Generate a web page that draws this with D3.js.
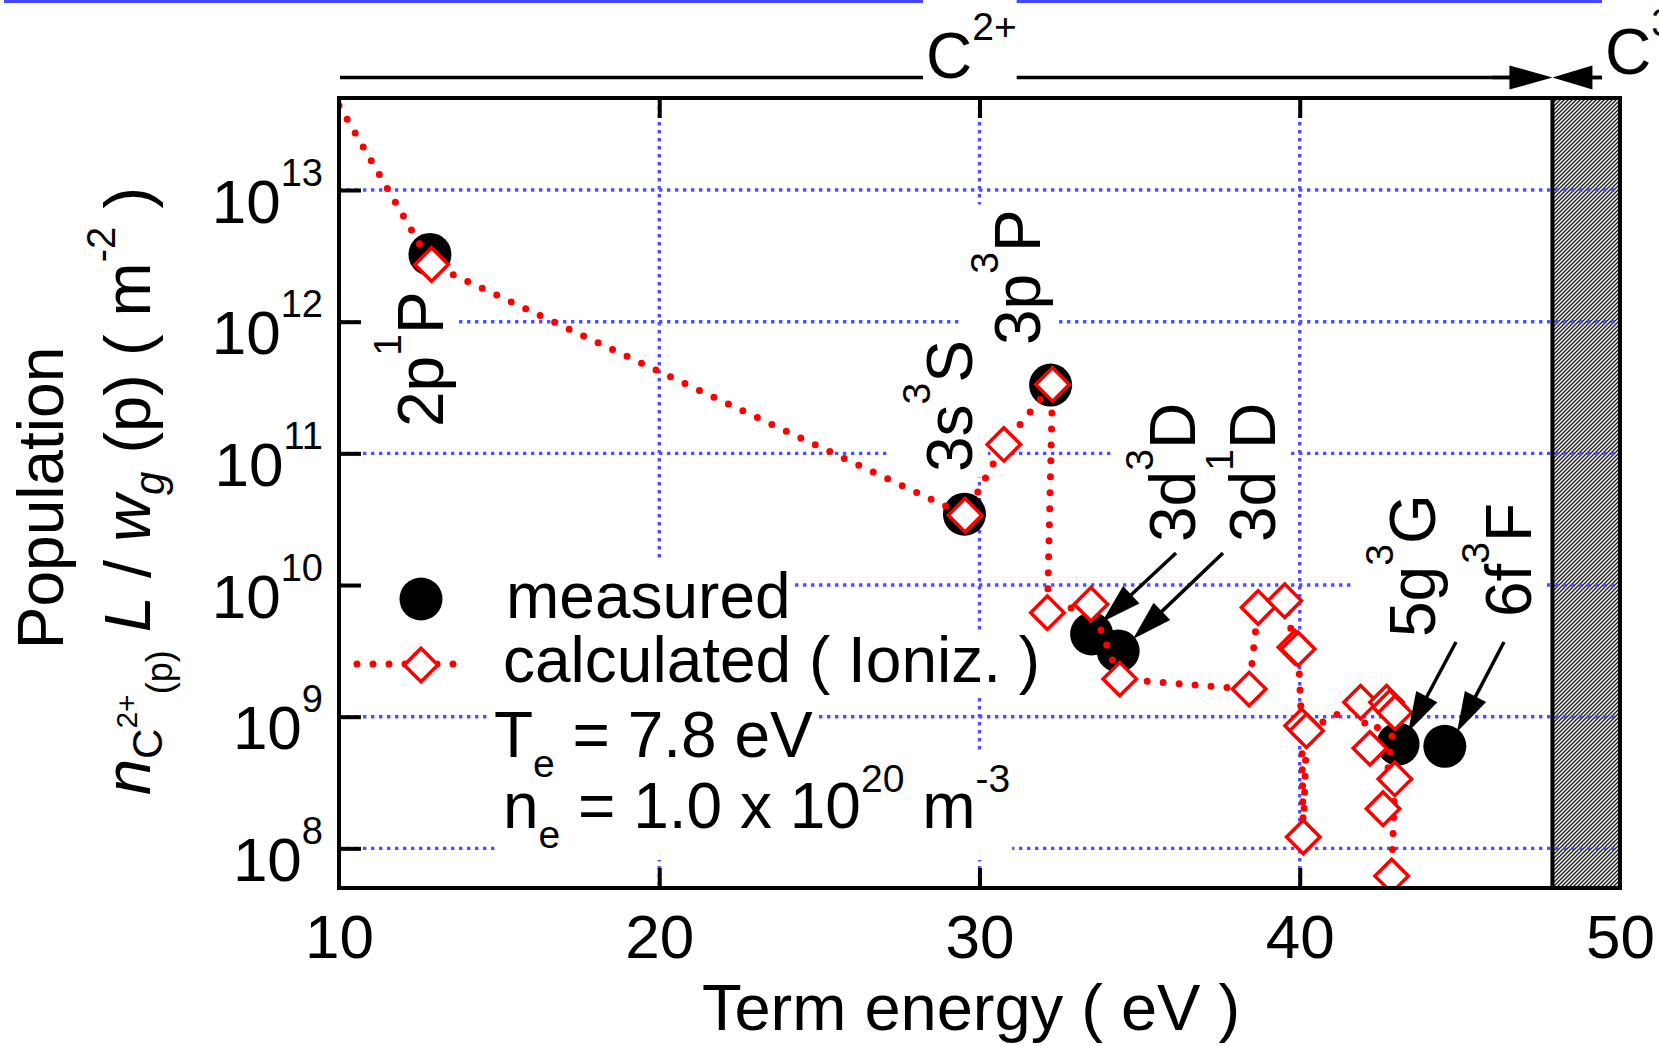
<!DOCTYPE html>
<html>
<head>
<meta charset="utf-8">
<script src="https://cdn.jsdelivr.net/npm/d3@7"></script>
<style>
  body { margin: 0; background: #fff; }
  svg { display: block; font-family: "Liberation Sans", Arial, Helvetica, sans-serif; }
</style>
</head>
<body>
<svg id="chart" width="1659" height="1046"></svg>
<script>
// measured populations (filled circles)
var measuredE = [12.84, 29.53, 32.22, 33.50, 34.33, 43.07, 44.53];
var measuredN = [3.24e12, 3.45e10, 3.3e11, 4.25e9, 3.16e9, 6.2e8, 5.96e8];

// calculated populations, ionizing plasma (diamonds), in the order the line joins them
var calcE = [6.49, 12.89, 29.55, 30.76, 32.28, 32.12, 33.48, 34.38, 38.42, 38.70, 39.53, 39.85,
             39.95, 40.06, 40.11, 40.21, 41.90, 42.19, 42.71, 42.81, 42.97, 42.60, 42.97, 42.87];
var calcN = [1.3e15, 2.72e12, 3.39e10, 1.17e11, 3.34e11, 6.17e9, 7.16e9, 1.93e9, 1.62e9, 6.76e9, 7.59e9, 3.37e9,
             3.27e9, 8.55e8, 1.22e8, 7.83e8, 1.29e9, 5.75e8, 1.29e9, 1.18e9, 1.07e9, 2.0e8, 3.37e8, 6.17e7];

var xTicks = [10, 20, 30, 40, 50];
var yTicks = [1e8, 1e9, 1e10, 1e11, 1e12, 1e13];
var gridX = [20, 30, 40];
var ionLimit = 47.89;   // C2+ -> C3+

// level labels: configuration, multiplicity, term
var levelConf = ["2p", "3s", "3p", "3d", "3d", "5g", "6f"];
var levelMult = ["1", "3", "3", "3", "1", "3", "3"];
var levelTerm = ["P", "S", "P", "D", "D", "G", "F"];

// ---- layout (pixels) ----
var levelLabelPos = [[443, 427], [972, 472], [1040, 345], [1195, 542], [1275, 542], [1435, 637], [1531, 617]];
var levelArrows = [null, null, null, [1176, 553, 1102, 622], [1223, 553, 1133, 639], [1456, 642, 1408, 732], [1504, 642, 1457, 732]];

var svg = d3.select("#chart");
var FONT = 64, SUP = 39;

var x = d3.scaleLinear().domain([10, 50]).range([339, 1620]);
var y = d3.scaleLog().domain([5e7, 5e13]).range([888, 98]);
var pLeft = x.range()[0], pRight = x.range()[1];
var pTop = y.range()[1], pBottom = y.range()[0];

var defs = svg.append("defs");
defs.append("clipPath").attr("id", "plotclip")
  .append("rect").attr("x", pLeft).attr("y", pTop).attr("width", pRight - pLeft).attr("height", pBottom - pTop);
var pat = defs.append("pattern").attr("id", "hatch")
  .attr("patternUnits", "userSpaceOnUse").attr("width", 4).attr("height", 4);
pat.append("rect").attr("width", 4).attr("height", 4).attr("fill", "#fff");
pat.append("path").attr("d", "M-1,1 l2,-2 M0,4 l4,-4 M3,5 l2,-2")
  .attr("stroke", "#222").attr("stroke-width", 1.5);

// thin blue rule along the very top
svg.append("rect").attr("x", 4).attr("y", 0).attr("width", 1655).attr("height", 3).attr("fill", "#4646ff");
var topBoxes = svg.append("g").attr("fill", "#fff");

// ionization-limit band
svg.append("rect")
  .attr("x", x(ionLimit)).attr("y", pTop)
  .attr("width", x(50) - x(ionLimit)).attr("height", pBottom - pTop)
  .attr("fill", "url(#hatch)").attr("stroke", "#000").attr("stroke-width", 4);

// grid
var grid = svg.append("g").attr("stroke", "#5050ff").attr("stroke-width", 3.4).attr("stroke-dasharray", "3.4 4.6");
grid.selectAll("line.h").data(yTicks).join("line").attr("class", "h")
  .attr("x1", pLeft).attr("x2", pRight).attr("y1", d => y(d)).attr("y2", d => y(d));
grid.selectAll("line.v").data(gridX).join("line").attr("class", "v")
  .attr("x1", d => x(d)).attr("x2", d => x(d)).attr("y1", pTop).attr("y2", pBottom);

// opaque boxes of labels go here (above grid, below data)
var boxLayer = svg.append("g").attr("fill", "#fff");

function boxBehind(textSel, pad) {
  var b = textSel.node().getBBox();
  boxLayer.append("rect")
    .attr("transform", textSel.attr("transform"))
    .attr("x", b.x - pad[0]).attr("y", b.y - pad[1])
    .attr("width", b.width + pad[0] + pad[2]).attr("height", b.height + pad[1] + pad[3]);
}

// measured
svg.append("g").selectAll("circle").data(measuredE).join("circle")
  .attr("cx", d => x(d)).attr("cy", (d, i) => y(measuredN[i])).attr("r", 21.5).attr("fill", "#000");

// calculated line
var line = d3.line().x(d => x(d[0])).y(d => y(d[1]));
svg.append("path")
  .attr("clip-path", "url(#plotclip)")
  .attr("d", line(calcE.map((e, i) => [e, calcN[i]])))
  .attr("fill", "none").attr("stroke", "#f00").attr("stroke-width", 7)
  .attr("stroke-linecap", "round").attr("stroke-dasharray", "0 16");

var diamond = d3.symbol().type(d3.symbolSquare).size(560);
svg.append("g").attr("clip-path", "url(#plotclip)").selectAll("path")
  .data(calcE.map((e, i) => [e, calcN[i]])).join("path")
  .attr("transform", d => "translate(" + x(d[0]) + "," + y(d[1]) + ") rotate(45)")
  .attr("d", diamond).attr("fill", "#fff").attr("stroke", "#f00").attr("stroke-width", 3.5);

// frame and ticks
svg.append("rect").attr("x", pLeft).attr("y", pTop).attr("width", pRight - pLeft).attr("height", pBottom - pTop)
  .attr("fill", "none").attr("stroke", "#000").attr("stroke-width", 4);

var xAxis = svg.append("g").attr("transform", "translate(0," + pBottom + ")")
  .call(d3.axisBottom(x).tickValues(xTicks).tickSizeInner(-20).tickSizeOuter(0).tickPadding(26).tickFormat(d3.format("d")));
var xAxisTop = svg.append("g").attr("transform", "translate(0," + pTop + ")")
  .call(d3.axisTop(x).tickValues(gridX).tickSizeInner(-20).tickSizeOuter(0).tickFormat(""));
var yAxis = svg.append("g").attr("transform", "translate(" + pLeft + ",0)")
  .call(d3.axisLeft(y).tickValues(yTicks).tickSizeInner(-22).tickSizeOuter(0).tickPadding(16));
[xAxis, xAxisTop, yAxis].forEach(function (a) {
  a.attr("font-family", null).attr("font-size", 62);
  a.select(".domain").remove();
  a.selectAll("line").attr("stroke", "#000").attr("stroke-width", 4);
  a.selectAll("text").attr("fill", "#000");
});
// the corner ticks at 10 and 50 sit on the frame
xAxis.selectAll(".tick line").filter(d => d === 10 || d === 50).remove();
yAxis.selectAll(".tick text").each(function (d) {
  var t = d3.select(this).text(null).attr("dy", null).attr("y", 32);
  t.append("tspan").text("10");
  t.append("tspan").attr("font-size", 38).attr("dy", -37).text(Math.round(Math.log10(d)));
});

var labelLayer = svg.append("g").attr("font-size", FONT);

// axis titles
labelLayer.append("text").attr("x", 971).attr("y", 1030).attr("font-size", 65).attr("text-anchor", "middle").text("Term energy ( eV )");
labelLayer.append("text").attr("transform", "translate(63,498) rotate(-90)").attr("text-anchor", "middle").text("Population");
var yt = labelLayer.append("text").attr("transform", "translate(150,491) rotate(-90)").attr("text-anchor", "middle").attr("font-size", 65);
yt.append("tspan").attr("font-style", "italic").text("n");
yt.append("tspan").attr("font-size", 42).attr("dy", 12).text("C");
yt.append("tspan").attr("font-size", 30).attr("dy", -25).text("2+");
yt.append("tspan").attr("font-size", 36).attr("dy", 35).text("(p)");
yt.append("tspan").attr("dy", -22).text(" ");
yt.append("tspan").attr("font-style", "italic").text("L");
yt.append("tspan").text(" / ");
yt.append("tspan").attr("font-style", "italic").text("w");
yt.append("tspan").attr("font-size", 42).attr("font-style", "italic").attr("dy", 14).text("g");
yt.append("tspan").attr("dy", -14).text(" (p) ( m");
yt.append("tspan").attr("font-size", 40).attr("dy", -35).text("-2");
yt.append("tspan").attr("dy", 35).text(" )");

// level labels, rotated, with white boxes
levelConf.forEach(function (c, i) {
  var p = levelLabelPos[i];
  var t = labelLayer.append("text").attr("transform", "translate(" + p[0] + "," + p[1] + ") rotate(-90)");
  t.append("tspan").text(c);
  t.append("tspan").attr("font-size", SUP).attr("dy", -42).text(levelMult[i]);
  t.append("tspan").attr("dy", 42).text(levelTerm[i]);
  boxBehind(t, [5, 4, 5, 2]);
});

// arrows to the measured points
function arrow(g, a, len, hw) {
  var dx = a[2] - a[0], dy = a[3] - a[1], L = Math.hypot(dx, dy), ux = dx / L, uy = dy / L;
  var bx = a[2] - ux * len, by = a[3] - uy * len;
  g.append("line").attr("x1", a[0]).attr("y1", a[1]).attr("x2", bx + ux * 4).attr("y2", by + uy * 4)
    .attr("stroke", "#000").attr("stroke-width", 3.5);
  g.append("polygon")
    .attr("points", [[a[2], a[3]], [bx - uy * hw, by + ux * hw], [bx + uy * hw, by - ux * hw]].map(q => q.join(",")).join(" "))
    .attr("fill", "#000");
}
var arrowLayer = svg.append("g");
levelArrows.forEach(function (a) { if (a) arrow(arrowLayer, a, 40, 12); });

// legend
var leg1 = labelLayer.append("text").attr("x", 506).attr("y", 618).text("measured");
var leg2 = labelLayer.append("text").attr("x", 503).attr("y", 682).text("calculated ( Ioniz. )");
var b1 = leg1.node().getBBox(), b2 = leg2.node().getBBox();
boxLayer.append("rect").attr("x", 345).attr("y", 560).attr("width", b1.x + b1.width + 2 - 345).attr("height", 71);
boxLayer.append("rect").attr("x", 345).attr("y", 631).attr("width", b2.x + b2.width + 2 - 345).attr("height", 67);
svg.append("circle").attr("cx", 421).attr("cy", 599).attr("r", 21.5).attr("fill", "#000");
svg.append("line").attr("x1", 357).attr("x2", 457).attr("y1", 664).attr("y2", 664)
  .attr("stroke", "#f00").attr("stroke-width", 7).attr("stroke-linecap", "round").attr("stroke-dasharray", "0 16");
svg.append("path").attr("transform", "translate(421,665) rotate(45)").attr("d", diamond)
  .attr("fill", "#fff").attr("stroke", "#f00").attr("stroke-width", 3.5);

// plasma parameters
var te = labelLayer.append("text").attr("x", 494).attr("y", 757);
te.append("tspan").text("T");
te.append("tspan").attr("font-size", SUP).attr("dy", 20).text("e");
te.append("tspan").attr("dy", -20).text(" = 7.8 eV");
boxBehind(te, [3, 4, 2, 4]);
var ne = labelLayer.append("text").attr("x", 503).attr("y", 828);
ne.append("tspan").text("n");
ne.append("tspan").attr("font-size", SUP).attr("dy", 20).text("e");
ne.append("tspan").attr("dy", -20).text(" = 1.0 x 10");
ne.append("tspan").attr("font-size", SUP).attr("dy", -36).text("20");
ne.append("tspan").attr("dy", 36).text(" m");
ne.append("tspan").attr("font-size", SUP).attr("dy", -36).text("-3");
boxBehind(ne, [4, 5, 2, 4]);

// ion-stage bar on top
var barY = 77.5;
var topG = svg.append("g");
topG.append("line").attr("x1", pLeft + 1).attr("x2", x(ionLimit) - 40).attr("y1", barY).attr("y2", barY)
  .attr("stroke", "#000").attr("stroke-width", 3.5);
topG.append("line").attr("x1", 1603).attr("x2", x(ionLimit) + 38).attr("y1", barY).attr("y2", barY)
  .attr("stroke", "#000").attr("stroke-width", 3.5);
arrow(topG, [x(ionLimit) - 60, barY, x(ionLimit), barY], 43, 12);
arrow(topG, [x(ionLimit) + 60, barY, x(ionLimit), barY], 40, 12);
var c2 = svg.append("text").attr("font-size", FONT).attr("x", 926).attr("y", 78);
c2.append("tspan").text("C");
c2.append("tspan").attr("font-size", SUP).attr("dy", -38).text("2+");
var c3 = svg.append("text").attr("font-size", FONT).attr("x", 1605).attr("y", 74);
c3.append("tspan").text("C");
c3.append("tspan").attr("font-size", SUP).attr("dy", -38).text("3+");
// boxes of the ion labels cut the blue rule and the bar
var bc2 = c2.node().getBBox();
topBoxes.append("rect").attr("x", bc2.x - 3).attr("y", 0).attr("width", bc2.width + 3).attr("height", 88);
topBoxes.append("rect").attr("x", 1602).attr("y", 0).attr("width", 60).attr("height", 88);
// bar lines must sit under the label boxes
topBoxes.raise();
c2.raise(); c3.raise();
</script>
</body>
</html>
